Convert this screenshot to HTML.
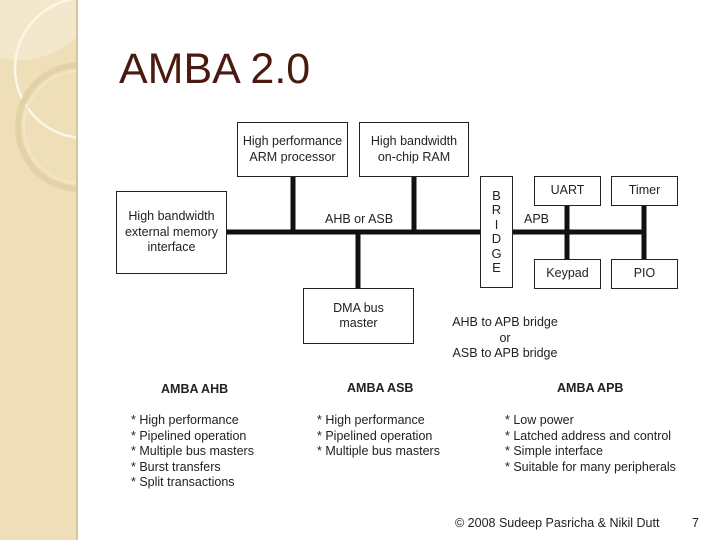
<!DOCTYPE html>
<html><head><meta charset="utf-8"><style>
body{margin:0;width:720px;height:540px;position:relative;background:#fff;overflow:hidden;font-family:"Liberation Sans",sans-serif;color:#222}
.t{position:absolute;font-size:12.5px;white-space:nowrap;line-height:15.5px}
.c{text-align:center}
.b{position:absolute;border:1.3px solid #222;box-sizing:border-box;display:flex;align-items:center;justify-content:center;text-align:center;font-size:12.5px;line-height:15.5px}
</style></head><body>
<svg width="720" height="540" style="position:absolute;left:0;top:0">
<defs><clipPath id="cp"><rect x="0" y="0" width="77" height="540"/></clipPath></defs>
<rect x="0" y="0" width="77" height="540" fill="#eedfb9"/>
<g clip-path="url(#cp)">
<circle cx="20" cy="-20" r="80" fill="#f3e8cc"/>
<circle cx="85" cy="68" r="70" fill="none" stroke="#fbf6e8" stroke-width="2.5"/>
<circle cx="80" cy="127" r="62" fill="none" stroke="#e3d2a6" stroke-width="6"/>
<circle cx="80" cy="127" r="56" fill="none" stroke="#f2e6c6" stroke-width="2"/>
</g>
<rect x="76" y="0" width="2" height="540" fill="#d8c69a"/>
<g stroke="#111" stroke-width="5">
<line x1="226" y1="232" x2="480" y2="232"/>
<line x1="512" y1="232" x2="645" y2="232"/>
<line x1="293" y1="176" x2="293" y2="232"/>
<line x1="414" y1="176" x2="414" y2="232"/>
<line x1="358" y1="232" x2="358" y2="288"/>
<line x1="567" y1="205" x2="567" y2="259"/>
<line x1="644" y1="205" x2="644" y2="259"/>
</g>
</svg>
<div class="t" style="left:119px;top:45px;font-size:43px;line-height:48px;color:#4a1a10">AMBA 2.0</div>
<div class="b" style="left:237px;top:122px;width:111px;height:55px">High performance<br>ARM processor</div>
<div class="b" style="left:359px;top:122px;width:110px;height:55px">High bandwidth<br>on-chip RAM</div>
<div class="b" style="left:116px;top:191px;width:111px;height:83px">High bandwidth<br>external memory<br>interface</div>
<div class="b" style="left:303px;top:288px;width:111px;height:56px">DMA bus<br>master</div>
<div class="b" style="left:480px;top:176px;width:33px;height:112px;line-height:14.5px;font-size:13px">B<br>R<br>I<br>D<br>G<br>E</div>
<div class="b" style="left:534px;top:176px;width:67px;height:30px">UART</div>
<div class="b" style="left:611px;top:176px;width:67px;height:30px">Timer</div>
<div class="b" style="left:534px;top:259px;width:67px;height:30px">Keypad</div>
<div class="b" style="left:611px;top:259px;width:67px;height:30px">PIO</div>
<div class="t" style="left:325px;top:212px">AHB or ASB</div>
<div class="t" style="left:524px;top:212px">APB</div>
<div class="t c" style="left:442px;top:315px;width:126px">AHB to APB bridge<br>or<br>ASB to APB bridge</div>
<div class="t" style="left:161px;top:382px;font-weight:bold">AMBA AHB</div>
<div class="t" style="left:347px;top:381px;font-weight:bold">AMBA ASB</div>
<div class="t" style="left:557px;top:381px;font-weight:bold">AMBA APB</div>
<div class="t" style="left:131px;top:413px">* High performance<br>* Pipelined operation<br>* Multiple bus masters<br>* Burst transfers<br>* Split transactions</div>
<div class="t" style="left:317px;top:413px">* High performance<br>* Pipelined operation<br>* Multiple bus masters</div>
<div class="t" style="left:505px;top:413px">* Low power<br>* Latched address and control<br>* Simple interface<br>* Suitable for many peripherals</div>
<div class="t" style="left:455px;top:516px">© 2008 Sudeep Pasricha &amp; Nikil Dutt</div>
<div class="t" style="left:692px;top:516px">7</div>
</body></html>
